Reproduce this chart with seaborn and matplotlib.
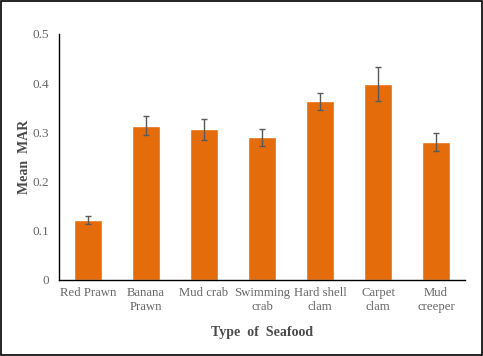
import matplotlib.pyplot as plt
import seaborn as sns
import pandas as pd
from matplotlib.patches import Rectangle

# Data
seafood = ['Red Prawn', 'Banana\nPrawn', 'Mud crab', 'Swimming\ncrab',
           'Hard shell\nclam', 'Carpet\nclam', 'Mud\ncreeper']
mean_mar = [0.122, 0.314, 0.306, 0.290, 0.363, 0.398, 0.280]
err = [0.008, 0.020, 0.021, 0.017, 0.017, 0.034, 0.018]
y_ticks = [0, 0.1, 0.2, 0.3, 0.4, 0.5]
y_tick_labels = ['0', '0.1', '0.2', '0.3', '0.4', '0.5']

df = pd.DataFrame({'seafood': seafood, 'mean': mean_mar})

sns.set_style('white')
plt.rcParams['font.family'] = ['Liberation Serif', 'DejaVu Serif']

fig = plt.figure(figsize=(4.83, 3.56), dpi=100)
ax = fig.add_axes([0.122, 0.2135, 0.841, 0.691])

sns.barplot(data=df, x='seafood', y='mean', color='#E46C0A', saturation=1,
            width=0.47, errorbar=None, ax=ax)
ax.errorbar(range(len(seafood)), mean_mar, yerr=err, fmt='none',
            ecolor='#595959', elinewidth=1, capsize=2.5, capthick=1)

ax.set_ylim(0, 0.5)
ax.set_xlim(-0.5, len(seafood) - 0.5)
ax.set_yticks(y_ticks)
ax.set_yticklabels(y_tick_labels)
ax.tick_params(axis='y', direction='inout', length=6, width=1, color='black',
               labelsize=9.5, labelcolor='#666666', pad=4)
ax.tick_params(axis='x', length=0, labelsize=9.2, labelcolor='#666666', pad=5)
for lab in ax.get_xticklabels():
    lab.set_linespacing(1.25)

for s in ['top', 'right']:
    ax.spines[s].set_visible(False)
for s in ['left', 'bottom']:
    ax.spines[s].set_color('black')
    ax.spines[s].set_linewidth(1)

ax.set_xlabel('Type  of  Seafood', fontsize=10, fontweight='bold', color='#4a4a4a', labelpad=9)
ax.set_ylabel('Mean  MAR', fontsize=10, fontweight='bold', color='#4a4a4a', labelpad=1)

# Border around the whole chart
fig.patches.append(Rectangle((0.002, 0.003), 0.996, 0.994, transform=fig.transFigure,
                             fill=False, edgecolor='black', linewidth=1.2))

fig.savefig('out.png', dpi=100)
